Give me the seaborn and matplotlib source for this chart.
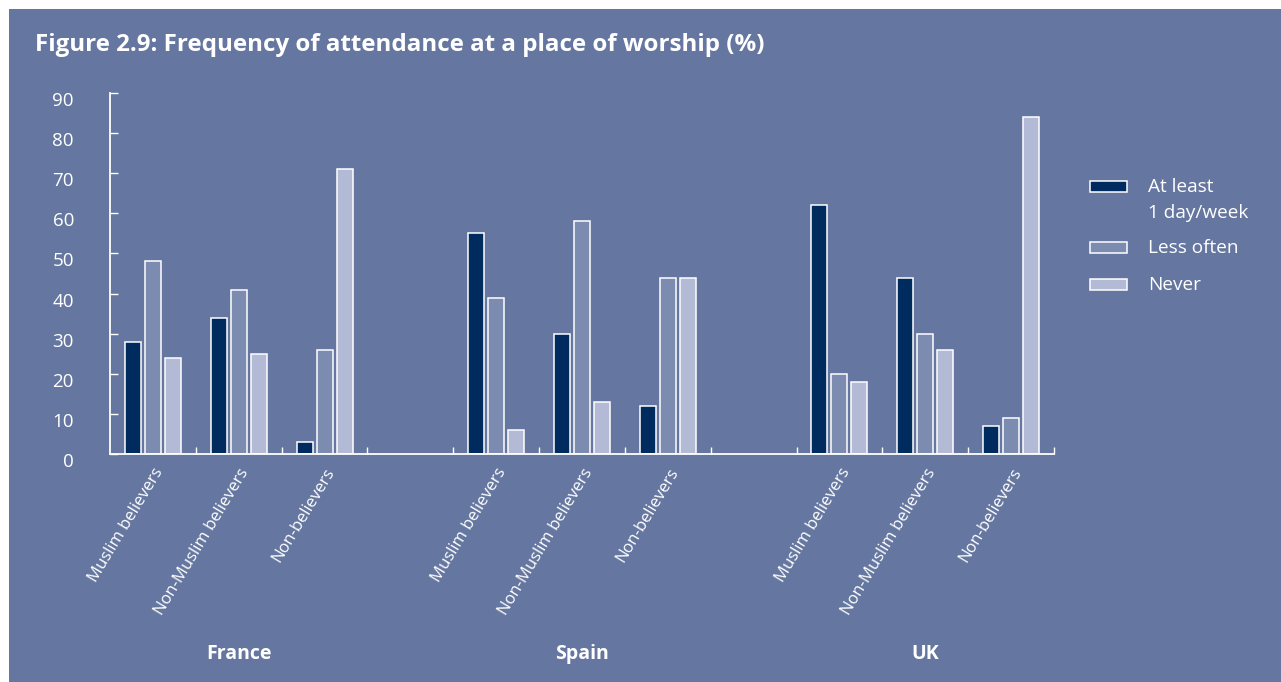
import pandas as pd
import numpy as np
import matplotlib.pyplot as plt
import matplotlib.transforms as mtransforms
import seaborn as sns

# --- data ---
countries = ['France', 'Spain', 'UK']
groups = ['Muslim believers', 'Non-Muslim believers', 'Non-believers']
series = ['At least\n1 day/week', 'Less often', 'Never']

at_least_weekly = [28, 34, 3, 55, 30, 12, 62, 44, 7]
less_often = [48, 41, 26, 39, 58, 44, 20, 30, 9]
never = [24, 25, 71, 6, 13, 44, 18, 26, 84]

bg = '#6577a0'
palette = ['#002b5e', '#7c8bb0', '#b2bad5']

# slots: 3 groups per country, one empty slot between countries
slots = []
tick_labels = []
for i, c in enumerate(countries):
    for g in groups:
        slots.append(f'{c}|{g}')
        tick_labels.append(g)
    if i < len(countries) - 1:
        slots.append(f'gap{i}')
        tick_labels.append('')

rows = []
k = 0
for c in countries:
    for g in groups:
        for s, vals in zip(series, [at_least_weekly, less_often, never]):
            rows.append({'slot': f'{c}|{g}', 'series': s, 'value': vals[k]})
        k += 1
df = pd.DataFrame(rows)

sns.set_style('white')
plt.rcParams['font.family'] = ['Open Sans', 'DejaVu Sans']

W, H = 1281, 682
fig = plt.figure(figsize=(W / 100, H / 100), dpi=100)
fig.patch.set_facecolor('white')
# blue panel with thin white margin at top/left
fig.patches.append(plt.Rectangle((9 / W, 0), 1, 1 - 9 / H, transform=fig.transFigure,
                                 facecolor=bg, edgecolor='none', zorder=-10))

ax = fig.add_axes([110 / W, 1 - 454 / H, (1054 - 110) / W, (454 - 93) / H])
ax.set_facecolor('none')

sns.barplot(data=df, x='slot', y='value', hue='series', order=slots, hue_order=series,
            palette=palette, width=0.7, gap=0.2, edgecolor='white', linewidth=1.1,
            saturation=1, legend=False, ax=ax)

ax.set_xlim(-0.5, len(slots) - 0.5)
ax.set_ylim(0, 90)
ax.set_xlabel('')
ax.set_ylabel('')

for side in ['top', 'right']:
    ax.spines[side].set_visible(False)
for side in ['left', 'bottom']:
    ax.spines[side].set_color('white')
    ax.spines[side].set_linewidth(1.3)

# y axis
ax.set_yticks(np.arange(0, 91, 10))
ax.tick_params(axis='y', left=True, direction='in', length=6, width=1, color='white',
               labelcolor='white', labelsize=13.5, pad=26)
shift_down = mtransforms.ScaledTranslation(0, -6 / 100, fig.dpi_scale_trans)
for lab in ax.get_yticklabels():
    lab.set_transform(lab.get_transform() + shift_down)

# x axis: labels at slot centres, ticks at slot boundaries
ax.set_xticks(np.arange(len(slots)))
ax.set_xticklabels(tick_labels, rotation=59, ha='right', rotation_mode='anchor',
                   color='white', fontsize=12)
ax.tick_params(axis='x', which='major', length=0, pad=8)
ax.set_xticks(np.arange(0.5, len(slots), 1), minor=True)
ax.tick_params(axis='x', which='minor', bottom=True, direction='in', length=5, width=1,
               color='white')

# country labels
for i, c in enumerate(countries):
    xc = i * 4 + 1
    ax.text(xc, -(654 - 454) / (454 - 93), c, transform=ax.get_xaxis_transform(),
            ha='center', va='center', color='white', fontsize=14, fontweight='bold')

# title
fig.text(35 / W, 1 - 45 / H, 'Figure 2.9: Frequency of attendance at a place of worship (%)',
         color='white', fontsize=17.4, fontweight='bold', ha='left', va='center')

# legend (drawn by hand so the swatch lines up with the first text line)
legend_rows = [('At least', 187, 186), ('Less often', 248, 247), ('Never', 285, 284)]
for (text, ty, py), col in zip(legend_rows, palette):
    fig.patches.append(plt.Rectangle((1090 / W, 1 - (py + 5.5) / H), 37 / W, 11 / H,
                                     transform=fig.transFigure, facecolor=col,
                                     edgecolor='white', linewidth=1.1))
    fig.text(1148 / W, 1 - ty / H, text, color='white', fontsize=13.7, ha='left', va='center')
fig.text(1148 / W, 1 - 213 / H, '1 day/week', color='white', fontsize=13.7, ha='left',
         va='center')

fig.savefig('out.png', dpi=100, facecolor=fig.get_facecolor())
